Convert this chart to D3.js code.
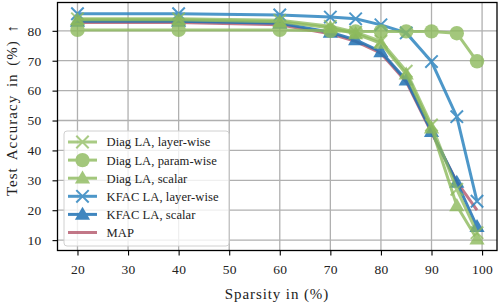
<!DOCTYPE html>
<html><head><meta charset="utf-8">
<script src="https://cdn.jsdelivr.net/npm/d3@7"></script>
<style>body{margin:0;background:#fff}svg{display:block}text{font-family:"Liberation Serif","DejaVu Serif",serif;fill:#222}</style>
</head><body><svg id="c" width="499" height="305"></svg>
<script>
const sparsity = [20, 40, 60, 70, 75, 80, 85, 90, 95, 99];
const diagLayer  = [84.0, 84.0, 83.5, 81.5, 79.5, 76.5, 66.5, 48.5, 27.0, 12.5];
const diagParam  = [80.3, 80.3, 80.3, 80.0, 79.8, 79.8, 79.8, 79.8, 79.2, 69.8];
const diagScalar = [83.7, 83.7, 83.0, 81.0, 79.0, 75.8, 65.5, 47.5, 21.5, 10.3];
const kfacLayer  = [85.7, 85.7, 85.3, 84.6, 84.0, 82.0, 79.3, 69.7, 51.3, 23.0];
const kfacScalar = [83.2, 83.2, 82.5, 79.5, 77.0, 73.0, 63.5, 46.3, 29.3, 14.5];
const mapAcc     = [82.8, 82.8, 82.0, 79.0, 76.5, 72.5, 63.0, 46.0, 29.5, 20.0];
const xTicks = [20, 30, 40, 50, 60, 70, 80, 90, 100];
const yTicks = [10, 20, 30, 40, 50, 60, 70, 80];

const series = [
  {name: "Diag LA, layer-wise", values: diagLayer,  color: "#8dba5c", marker: "x", op: 0.75},
  {name: "Diag LA, param-wise", values: diagParam,  color: "#8dba5c", marker: "o", op: 0.8},
  {name: "Diag LA, scalar",     values: diagScalar, color: "#8dba5c", marker: "^", op: 0.8},
  {name: "KFAC LA, layer-wise", values: kfacLayer,  color: "#2f86c0", marker: "x", op: 0.85},
  {name: "KFAC LA, scalar",     values: kfacScalar, color: "#1f72b4", marker: "^", op: 0.85},
  {name: "MAP",                 values: mapAcc,     color: "#b4566a", marker: null, op: 0.8}
];
const drawOrder = [5, 4, 3, 2, 0, 1];

const svg = d3.select("#c");
const L = 57.5, R = 497, T = 2.5, B = 250.5;
const allX = sparsity, allY = series.flatMap(s => s.values);
const xe = d3.extent(allX), ye = d3.extent(allY);
const xp = (xe[1]-xe[0])*0.05, yp = (ye[1]-ye[0])*0.05;
const x = d3.scaleLinear().domain([xe[0]-xp, xe[1]+xp]).range([L, R]);
const y = d3.scaleLinear().domain([ye[0]-yp, ye[1]+yp]).range([B, T]);

const g = svg.append("g");
g.selectAll(".gx").data(xTicks).join("line")
  .attr("x1", d => x(d)).attr("x2", d => x(d)).attr("y1", T).attr("y2", B)
  .attr("stroke", "#b0b0b0").attr("stroke-width", 1.3);
g.selectAll(".gy").data(yTicks).join("line")
  .attr("y1", d => y(d)).attr("y2", d => y(d)).attr("x1", L).attr("x2", R)
  .attr("stroke", "#b0b0b0").attr("stroke-width", 1.3);

const xa = svg.append("g").attr("transform", `translate(0,${B})`)
  .call(d3.axisBottom(x).tickValues(xTicks).tickSize(5).tickPadding(9));
const ya = svg.append("g").attr("transform", `translate(${L},0)`)
  .call(d3.axisLeft(y).tickValues(yTicks).tickSize(5).tickPadding(11));
[xa, ya].forEach(a => {
  a.select(".domain").remove();
  a.selectAll(".tick line").attr("stroke", "#000").attr("stroke-width", 1.1);
  a.selectAll(".tick text").attr("font-size", 13.5).attr("font-family", "Liberation Serif")
    .attr("fill", "#222").attr("letter-spacing", 0.3);
});

const line = d3.line().x((d, i) => x(sparsity[i])).y(d => y(d));
const tri = d3.symbol().type(d3.symbolTriangle).size(100);

function drawMarker(sel, m, color, cx, cy, scale) {
  const k = scale || 1;
  if (m === "o") {
    sel.append("circle").attr("cx", cx).attr("cy", cy).attr("r", 7.2 * k).attr("fill", color);
  } else if (m === "^") {
    sel.append("path").attr("d", tri).attr("transform", `translate(${cx},${cy + 1}) scale(${k})`).attr("fill", color);
  } else if (m === "x") {
    const s = 6.2 * k;
    sel.append("path").attr("d", `M${cx-s},${cy-s}L${cx+s},${cy+s}M${cx-s},${cy+s}L${cx+s},${cy-s}`)
      .attr("stroke", color).attr("stroke-width", 2).attr("fill", "none");
  }
}

const plot = svg.append("g");
drawOrder.forEach(i => {
  const s = series[i];
  const grp = plot.append("g").attr("opacity", s.op);
  grp.append("path").attr("d", line(s.values)).attr("fill", "none")
    .attr("stroke", s.color).attr("stroke-width", 3);
  s.values.forEach((v, j) => drawMarker(grp, s.marker, s.color, x(sparsity[j]), y(v)));
});

svg.append("rect").attr("x", L).attr("y", T).attr("width", R - L).attr("height", B - T)
  .attr("fill", "none").attr("stroke", "#000").attr("stroke-width", 1.3);

const lg = svg.append("g");
lg.append("rect").attr("x", 64).attr("y", 131).attr("width", 165).attr("height", 115)
  .attr("rx", 3).attr("fill", "#fff").attr("fill-opacity", 0.8).attr("stroke", "#d0d0d0").attr("stroke-width", 1);
series.forEach((s, i) => {
  const cy = 142 + i * 18.1;
  const it = lg.append("g").attr("opacity", s.op);
  it.append("line").attr("x1", 68).attr("x2", 97).attr("y1", cy).attr("y2", cy)
    .attr("stroke", s.color).attr("stroke-width", 3);
  drawMarker(it, s.marker, s.color, 82.5, cy, 1);
  lg.append("text").attr("x", 106.5).attr("y", cy).attr("dy", "0.35em")
    .attr("font-size", 12.6).attr("letter-spacing", 0.05).text(s.name);
});

svg.append("text").attr("x", 277).attr("y", 299).attr("text-anchor", "middle")
  .attr("font-size", 15).attr("letter-spacing", 0.9).text("Sparsity in (%)");
svg.append("text").attr("transform", `translate(17,110) rotate(-90)`)
  .attr("text-anchor", "middle").attr("font-size", 15).attr("letter-spacing", 1.0)
  .attr("word-spacing", 3).text("Test Accuracy in (%) ↑");
</script></body></html>
